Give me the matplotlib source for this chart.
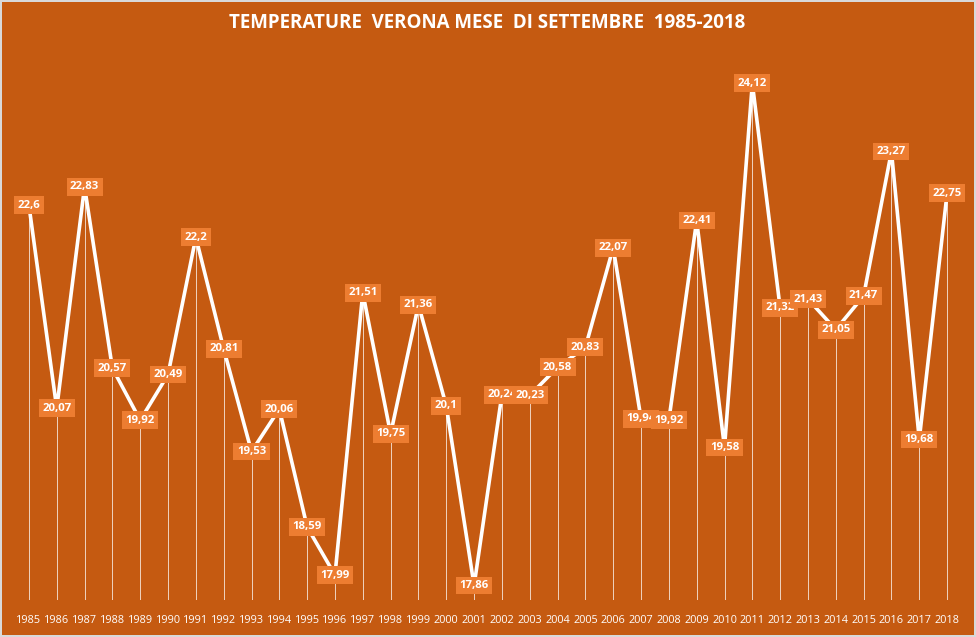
import matplotlib
matplotlib.use("Agg")
import matplotlib.pyplot as plt

years = list(range(1985, 2019))
temps = [22.6, 20.07, 22.83, 20.57, 19.92, 20.49, 22.2, 20.81, 19.53, 20.06,
         18.59, 17.99, 21.51, 19.75, 21.36, 20.1, 17.86, 20.24, 20.23, 20.58,
         20.83, 22.07, 19.94, 19.92, 22.41, 19.58, 24.12, 21.32, 21.43, 21.05,
         21.47, 23.27, 19.68, 22.75]
title = "TEMPERATURE  VERONA MESE  DI SETTEMBRE  1985-2018"

BG = "#C55A11"
BOX = "#ED7D31"
FONT = ["Open Sans", "DejaVu Sans"]

fig = plt.figure(figsize=(9.76, 6.37), dpi=100, facecolor=BG)
fig.patch.set_edgecolor("#d9d9d9")
fig.patch.set_linewidth(1.5)
ax = fig.add_axes([15/976, 37/637, (961-15)/976, 540/637])
ax.set_facecolor(BG)
x = list(range(len(years)))
ymin, ymax = 17.68, 24.41
ax.set_xlim(-0.5, len(years) - 0.5)
ax.set_ylim(ymin, ymax)

ax.vlines(x, ymin, temps, color="white", linewidth=0.6, alpha=0.85, zorder=1)
ax.plot(x, temps, color="white", linewidth=2.6, zorder=2, solid_joinstyle="miter")

def fmt(v):
    s = f"{v:.2f}".rstrip("0").rstrip(".")
    return s.replace(".", ",")

for i, v in enumerate(temps):
    ax.text(i, v, fmt(v), ha="center", va="center", color="white", fontsize=8.2,
            fontweight="bold", family=FONT, zorder=3 + i,
            bbox=dict(boxstyle="square,pad=0.3", facecolor=BOX, edgecolor="none"))

ax.set_xticks(x)
ax.set_xticklabels([str(y) for y in years], color="white", fontsize=7.8, family=FONT)
ax.tick_params(axis="x", length=0, pad=11)
ax.set_yticks([])
for s in ax.spines.values():
    s.set_visible(False)

fig.text(487/976, 1 - 23/637, title, ha="center", va="center", color="white",
         fontsize=13.5, fontweight="bold", family=FONT)

fig.savefig("out.png", dpi=100, facecolor=BG, edgecolor=fig.get_edgecolor())
